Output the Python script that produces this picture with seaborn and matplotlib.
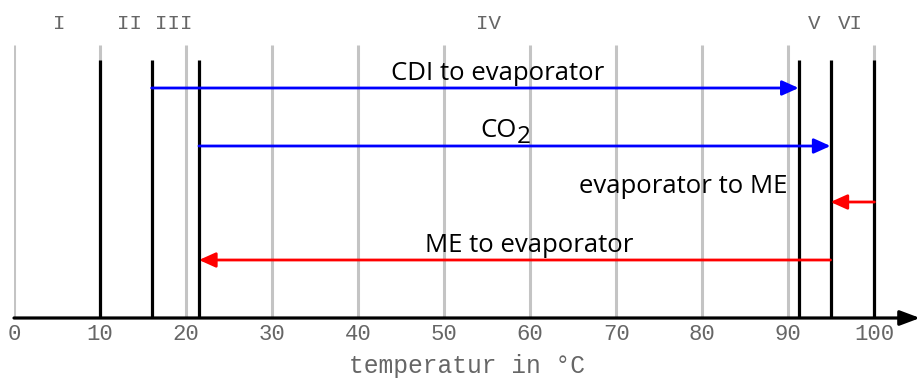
import matplotlib
matplotlib.use("Agg")
import matplotlib.pyplot as plt
import seaborn as sns

# temperature grid and section borders
grid_temps = [0, 10, 20, 30, 40, 50, 60, 70, 80, 90, 100]
border_temps = [10, 16, 21.5, 91.2, 94.9, 100]

# section names and their centre temperatures
section_names = ["I", "II", "III", "IV", "V", "VI"]
section_centres = [5.3, 13.4, 18.6, 55.2, 93.0, 97.2]

# flows: label, start, end, colour
flow_labels = ["CDI to evaporator", "CO", "evaporator to ME", "ME to evaporator"]
flow_start = [16, 21.5, 100, 94.9]
flow_end = [91.2, 94.9, 94.9, 21.5]
flow_colors = ["#0000ff", "#0000ff", "#ff0000", "#ff0000"]

sns.set_style("white")
plt.rcParams["font.family"] = ["Open Sans", "DejaVu Sans"]

fig = plt.figure(figsize=(9.23, 3.78), dpi=100)
ax = fig.add_axes([14 / 923, 1 - 318 / 378, 906 / 923, 318 / 378])
ax.set_xlim(0, 105.3)
ax.set_ylim(0, 318)

# y levels in pixel units above the axis
levels = [230, 172, 116, 58]
text_y = [238, 181, 125, 66]
text_x = [56.2, 58.4, 89.9, 59.9]
text_ha = ["center", "right", "right", "center"]

ax.vlines(grid_temps, 0, 273, color="#c4c4c4", lw=2.2, zorder=1)
ax.vlines(border_temps, 0, 258, color="black", lw=2.3, zorder=2)

for lab, s, e, c, lv, tx, ty, ha in zip(flow_labels, flow_start, flow_end, flow_colors,
                                        levels, text_x, text_y, text_ha):
    ax.annotate("", xy=(e, lv), xytext=(s, lv),
                arrowprops=dict(arrowstyle="-|>,head_length=1.0,head_width=0.45",
                                color=c, lw=2, shrinkA=0, shrinkB=0),
                zorder=3)
    ax.text(tx, ty, lab, ha=ha, va="baseline", fontsize=18.5, color="black")

# subscript of CO2, nearly full size and set lower
ax.text(58.4, 175, "2", ha="left", va="baseline", fontsize=17.5, color="black")

mono = ["Liberation Mono", "DejaVu Sans Mono"]
for name, cx in zip(section_names, section_centres):
    ax.text(cx, 294.5, name, ha="center", va="center", fontsize=15,
            family=mono, color="#666666")

# x axis with arrow head
ax.annotate("", xy=(105.3, 0), xytext=(0, 0),
            arrowprops=dict(arrowstyle="-|>,head_length=1.2,head_width=0.45",
                            color="black", lw=2.3, shrinkA=0, shrinkB=0),
            annotation_clip=False, zorder=4)

sns.despine(ax=ax, left=True, bottom=True)
ax.set_yticks([])
ax.set_xticks(grid_temps)
ax.set_xticklabels([str(t) for t in grid_temps], family=mono, fontsize=16, color="#666666")
ax.tick_params(axis="x", length=0, pad=4)
ax.set_xlabel("temperatur in °C", family=mono, fontsize=17.7, color="#666666", labelpad=7)
ax.patch.set_alpha(0)

fig.savefig("out.png", dpi=100)
